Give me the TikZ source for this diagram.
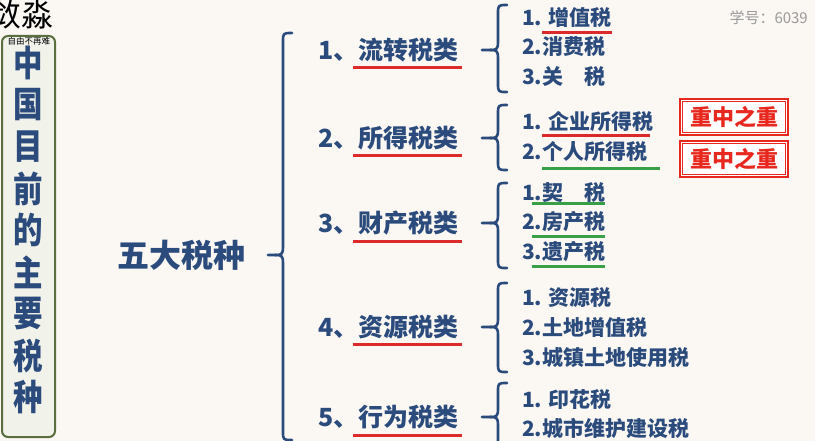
\documentclass[tikz,border=0pt]{standalone}
\usepackage{fontspec}
\usepackage{graphicx}
\setmainfont{Noto Sans CJK SC}
\definecolor{bg}{HTML}{FBF7F3}
\definecolor{navy}{HTML}{2A4B7C}
\definecolor{ured}{HTML}{DC2A2A}
\definecolor{ugreen}{HTML}{3AA048}
\definecolor{boxred}{HTML}{E8281E}
\definecolor{boxgreen}{HTML}{5A6E3E}
\definecolor{boxfill}{HTML}{F1F2E9}
\definecolor{gray6}{HTML}{9A9A9A}
\newcommand\fs[1]{\fontsize{#1}{#1}\selectfont}
\newcommand\mybrace[5]{% x, top, mid, bottom, tip
  \draw[bracestyle] (#1+9,#2) .. controls (#1,#2) .. (#1,#2+9) -- (#1,#3-8) .. controls (#1,#3) and (#1-2,#3) .. (#1-8,#3) -- (#5,#3);
  \draw[bracestyle] (#1+9,#4) .. controls (#1,#4) .. (#1,#4-9) -- (#1,#3+8) .. controls (#1,#3) and (#1-2,#3) .. (#1-8,#3);
}
\tikzset{
  cat/.style={anchor=west, inner sep=0pt, text=navy, font=\bfseries\fs{25}},
  item/.style={anchor=west, inner sep=0pt, text=navy, font=\bfseries\fs{21}},
  vchar/.style={inner sep=0pt, text=navy, font=\bfseries\fs{31}},
  redu/.style={draw=ured, line width=3pt},
  greenu/.style={draw=ugreen, line width=3pt},
  bracestyle/.style={draw=navy, line width=2.6pt, line cap=round, line join=round},
  keybox/.style={draw=boxred, line width=2.4pt, fill=white, inner sep=0pt, minimum width=108pt, minimum height=36pt, text=boxred, font=\bfseries\fs{22}}
}
\begin{document}
\begin{tikzpicture}[x=1pt,y=-1pt]
\useasboundingbox (0,0) rectangle (815,441);
\clip (0,0) rectangle (815,441);
\fill[bg] (0,0) rectangle (815,441);

% top-left stray characters (cut by the edge, as in the reference)
\node[anchor=east, inner sep=0pt, font=\fs{32}] (nm) at (54,14) {敛淼};

% left title box
\draw[boxgreen, line width=2pt, fill=boxfill, rounded corners=6pt] (2,36) rectangle (55,437);
\node[inner sep=0pt, font=\fs{8.5}] (slogan) at (29,41.5) {自由不再难};
\foreach \c [count=\i] in {中,国,目,前,的,主,要,税,种}
  \node[vchar] (t\i) at (28.5,{63+(\i-1)*41.8}) {\scalebox{0.95}[1.15]{\c}};

% root
\node[anchor=west, inner sep=0pt, text=navy, font=\bfseries\fs{32}] (root) at (117,255) {五大税种};
\mybrace{283}{33}{255}{440}{268}

% categories
\node[cat] (c1) at (318,50) {1、流转税类};
\node[cat] (c2) at (318,138) {2、所得税类};
\node[cat] (c3) at (318,223) {3、财产税类};
\node[cat] (c4) at (318,327) {4、资源税类};
\node[cat] (c5) at (318,417) {5、行为税类};
\draw[redu] (353,68) -- (462,68);
\draw[redu] (353,156) -- (462,156);
\draw[redu] (353,242) -- (462,242);
\draw[redu] (353,344) -- (462,344);
\draw[redu] (353,435) -- (462,435);

% small braces
\mybrace{498}{5}{50}{92}{482}
\mybrace{498}{105}{138}{170}{482}
\mybrace{498}{183}{223}{268}{482}
\mybrace{498}{283}{327}{372}{482}
\mybrace{498}{383}{417}{470}{482}

% items
\node[item] (i11) at (522,17) {1. 增值税};
\node[item] (i12) at (522,47) {2.消费税};
\node[item] (i13) at (522,77) {3.关\hspace{1em}税};
\draw[redu] (542,33) -- (612,33);

\node[item] (i21) at (522,122) {1. 企业所得税};
\node[item] (i22) at (522,152) {2.个人所得税};
\draw[redu] (542,136) -- (650,136);
\draw[greenu] (542,169) -- (660,169);

\node[item] (i31) at (522,193) {1.契\hspace{1em}税};
\node[item] (i32) at (522,222) {2.房产税};
\node[item] (i33) at (522,252) {3.遗产税};
\draw[greenu] (532,204) -- (605,204);
\draw[greenu] (532,237) -- (605,237);
\draw[greenu] (532,267) -- (605,267);

\node[item] (i41) at (522,298) {1. 资源税};
\node[item] (i42) at (522,327) {2.土地增值税};
\node[item] (i43) at (522,357) {3.城镇土地使用税};

\node[item] (i51) at (522,400) {1. 印花税};
\node[item] (i52) at (522,428) {2.城市维护建设税};

% key boxes
\node[keybox] (k1) at (734,117) {重中之重};
\node[keybox] (k2) at (734,159) {重中之重};
\draw[boxred, line width=0.8pt] ([shift={(3.5,3.5)}]k1.north west) rectangle ([shift={(-3.5,-3.5)}]k1.south east);
\draw[boxred, line width=0.8pt] ([shift={(3.5,3.5)}]k2.north west) rectangle ([shift={(-3.5,-3.5)}]k2.south east);

% student number
\node[anchor=east, inner sep=0pt, text=gray6, font=\fs{15}] (sid) at (808,18) {学号：6039};
\end{tikzpicture}
\end{document}
